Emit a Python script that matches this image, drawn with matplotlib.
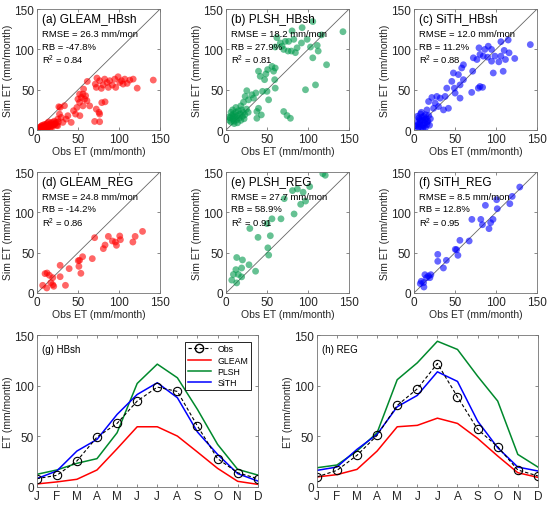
import numpy as np
import matplotlib
matplotlib.use('Agg')
import matplotlib.pyplot as plt
from matplotlib.lines import Line2D

plt.rcParams['font.family'] = ['Liberation Sans', 'DejaVu Sans']
plt.rcParams['mathtext.default'] = 'regular'

# ---- scatter data (obs, sim) ----
gleam_hbsh_obs = [141.8, 122.2, 117.3, 113.2, 107, 103, 98.9, 100.9, 94.8, 91.9, 88.7, 85.4, 82.5, 80.5,
                  76.4, 73.1, 72.3, 78.5, 71.1, 87, 96, 105, 109.9, 61.3,
                  56.8, 51.9, 56, 59.3, 54, 49.9, 58, 51.9, 60.9, 56, 48.6, 64.2, 44.5, 47, 72.3, 76.4,
                  70.3, 76.4, 37.6, 35.6, 29.4, 27.4, 25.3, 23.3, 31.5, 41.7, 19.2, 15.1, 17.2, 11,
                  6.9, 4.9, 9, 13, 2.9, 6.1, 21.3, 25.3, 28.2, 33.5, 26.6, 79, 83, 75.6, 52.3,
                  3, 5, 6, 8, 9, 10, 12, 14, 15, 7, 11, 13, 16, 18, 20, 22, 4, 6, 9, 12, 17, 19, 24,
                  26, 8, 10, 14, 21, 5, 7]
gleam_hbsh_sim = [62, 52, 63.2, 62, 63.2, 61.2, 66.1, 59, 63.2, 55.8, 61.2, 59, 63.2, 55.8,
                  61.2, 64.5, 52.9, 51.7, 57, 52.9, 52.9, 57, 57.9, 60.3,
                  50.8, 44.6, 44.6, 42.6, 40.4, 38.4, 38.4, 34.3, 36.4, 30, 28, 30, 24, 19.8, 26, 19.8,
                  10.7, 10.3, 17.8, 13.6, 15.7, 19.8, 13.6, 9.5, 9.5, 9.5, 9.5, 7.4, 5.4, 5.4,
                  3.3, 2.5, 2, 3.3, 3.3, 5.4, 6.6, 5.4, 28.1, 30.2, 28.9, 34, 35, 21.9, 17.8,
                  2, 1, 3, 2, 4, 3, 5, 4, 6, 1.5, 1, 2.5, 3, 5, 7, 8, 4, 5.5, 7, 8, 9, 4, 6,
                  10, 0.5, 6, 10, 11, 2, 4]

plsh_hbsh_obs = [142.6, 122.6, 109.1, 96.9, 116.5, 105.8, 111.2, 112.4, 103, 105.8, 98.9, 92, 86.6, 82.6,
                 76.4, 72.3, 84.6, 79.7, 75.6, 70.3, 68.3, 80.5, 92.8, 62, 66.2, 60,
                 56, 60, 50.7, 58, 48.6, 39.6, 41.7, 47, 59.3, 60, 50, 44.5, 36.4, 31.5, 23.3, 27.4,
                 21.3, 33.5, 25.3, 39.6, 37.6, 51.9, 70.3, 74.4, 78.5, 37.6, 43,
                 4, 5, 6, 7, 8, 9, 10, 11, 12, 13, 14, 15, 16, 17, 18, 19, 20, 21, 22, 23, 6, 8, 10,
                 12, 25, 27, 14, 3, 18, 9]
plsh_hbsh_sim = [122, 81, 56, 50, 118, 134.6, 105, 98, 103, 89.6, 112.5, 108, 102, 112.5,
                 110, 110, 96, 98, 98, 100, 104, 123, 127, 114.6, 108, 103,
                 79, 77, 75, 73, 69.6, 73, 66.7, 62.5, 62.5, 52, 48, 48, 46, 43.8, 41.7, 37.5,
                 34.6, 39.6, 48.8, 27, 23, 37.5, 23, 18, 14.6, 14.6, 18.8,
                 12, 15, 10, 18, 14, 20, 11, 16, 22, 13, 18, 24, 15, 20, 12, 25, 17, 22, 14, 19, 22, 25, 8,
                 28, 26, 22, 9, 16, 30, 17]

sith_hbsh_obs = [141.9, 114.9, 122.9, 116, 106, 110, 111.6, 106, 98.7, 103.5, 94.6, 89.8, 84.5, 80.5,
                 76.8, 72.4, 86.5, 90.6, 79.3, 94.6, 96.7, 108.8, 80.5, 78.5, 83.7, 70.4, 71.6,
                 58.2, 60.3, 54.2, 60.3, 48.1, 56.2, 46.1, 49.3, 40, 38, 50.2, 56.2, 32, 27.9, 21.8,
                 17.8, 25.9, 29.9, 42, 36, 23.9, 15.8,
                 3, 4, 5, 6, 7, 8, 9, 10, 11, 12, 13, 14, 15, 16, 17, 18, 5, 7, 9, 11, 6, 8, 10, 12,
                 14, 16, 4, 13, 19, 20]
sith_hbsh_sim = [106, 111.7, 88.8, 95.8, 109.6, 98.8, 87.5, 91.7, 91.7, 84.6, 85.4, 90.4, 91.7, 93.8,
                 87.5, 89.6, 100, 104, 102, 100, 70.8, 72.9, 54, 52, 53, 46.7, 73,
                 77, 81, 68.8, 62.5, 70.8, 56, 60.4, 52, 52, 41.7, 45.8, 39.6, 39.6, 41.7, 40.4,
                 35.4, 33.3, 29.2, 27, 25, 27, 25,
                 5, 10, 3, 15, 8, 20, 4, 12, 6, 17, 9, 3, 14, 7, 11, 18, 7, 13, 22, 2, 4, 11, 16, 5,
                 19, 10, 17, 13, 6, 14]

gleam_reg_obs = [128.7, 119.7, 116.9, 100.9, 101.7, 91.9, 95.6, 96.9, 87, 83, 80.9, 70.3, 67.4, 55.6,
                 50.3, 51.9, 51.1, 53.5, 39.2, 28.2, 28.2, 34.7, 19.2, 20.4, 11.9, 6.9, 16.8, 19.2,
                 9.8, 12.3, 15.1]
gleam_reg_sim = [76.4, 70.2, 63.2, 70.7, 66.1, 64.5, 63.2, 59.1, 70.2, 59.5, 55, 68.6, 42.6, 45,
                 40, 40.5, 33, 24.4, 30.2, 34.3, 20.2, 9.5, 10.3, 8.3, 6.2, 9.5, 12.8, 19,
                 24, 24.8, 21.9]

plsh_reg_obs = [118, 121, 102, 87, 81, 94, 97, 91, 71, 83, 56, 50, 67, 29, 39, 54, 51, 52,
                13, 20, 28, 19, 36, 12, 9, 15, 19, 7, 13]
plsh_reg_sim = [148, 146, 132, 129, 127, 125, 114, 110, 117, 98, 92, 86, 92, 80, 69, 71, 56, 47,
                44, 41, 35, 31, 27, 29, 23, 23, 20, 16, 12.5]

sith_reg_obs = [129, 119.8, 116.9, 100.8, 101.6, 87.1, 81.5, 83.5, 70.6, 96.4, 93.5, 91.5, 56, 67.3,
                50.4, 52, 53.6, 29, 29, 39.5, 35.9, 13.3, 17.7, 20.6, 19.4, 15.3, 8.9, 11.7, 12.1, 7.7]
sith_reg_sim = [131.4, 119.8, 110.7, 115.7, 104.5, 108.7, 91.3, 84.7, 91.3, 91.3, 87.2, 79.8, 65.3, 64.5,
                54.1, 53.7, 46.7, 47.9, 39.3, 40.5, 31, 22.7, 21.1, 22.7, 19, 19, 14.5, 12.8, 7.4, 11.6]

# ---- monthly means ----
months = ['J', 'F', 'M', 'A', 'M', 'J', 'J', 'A', 'S', 'O', 'N', 'D']
hbsh_obs = [8.2, 11.5, 25.7, 49.3, 62.8, 84.9, 98.7, 94.4, 60.2, 28, 14.1, 8.2]
hbsh_gleam = [3, 5, 7.6, 16.8, 37.8, 59.5, 59.5, 50.3, 34.5, 18.4, 5.6, 2.6]
hbsh_plsh = [12.5, 16.8, 23.4, 28, 53.6, 102.3, 121.4, 107.9, 76.6, 42.1, 17.4, 11.8]
hbsh_sith = [8.2, 15.8, 35.5, 47, 71.7, 91.4, 103, 88.2, 54.3, 32.2, 13.2, 5.9]

reg_obs = [9.9, 16.4, 31.3, 51, 80.6, 97, 122, 89, 57, 39.8, 16.8, 10.9]
reg_gleam = [9.9, 12.2, 17.4, 35.5, 59.5, 60.9, 68, 62.8, 48, 30.6, 14.1, 9.5]
reg_plsh = [19, 21.7, 35.5, 53.6, 106, 122.7, 144, 135.9, 109.5, 84.9, 32.2, 19.7]
reg_sith = [16.4, 19.7, 37.2, 52, 79.3, 90.5, 113.8, 104.3, 65.1, 38.8, 19.7, 15.8]

scatter_panels = [
    ('(a) GLEAM_HBsh', gleam_hbsh_obs, gleam_hbsh_sim, 'red', '26.3', '-47.8', '0.84'),
    ('(b) PLSH_HBsh', plsh_hbsh_obs, plsh_hbsh_sim, '#00994c', '18.2', '27.9', '0.81'),
    ('(c) SiTH_HBsh', sith_hbsh_obs, sith_hbsh_sim, 'blue', '12.0', '11.2', '0.88'),
    ('(d) GLEAM_REG', gleam_reg_obs, gleam_reg_sim, 'red', '24.8', '-14.2', '0.86'),
    ('(e) PLSH_REG', plsh_reg_obs, plsh_reg_sim, '#00994c', '27.7', '58.9', '0.91'),
    ('(f) SiTH_REG', sith_reg_obs, sith_reg_sim, 'blue', '8.5', '12.8', '0.95'),
]

lefts = [0.0673, 0.411, 0.7527]
bottoms = [0.741, 0.419]
pw, ph = 0.2236, 0.239

fig = plt.figure(figsize=(5.5, 5.06), dpi=100)


def style_axes(ax):
    for s in ax.spines.values():
        s.set_color('0.45')
        s.set_linewidth(0.6)
    ax.tick_params(direction='in', top=True, right=True, length=2.5, width=0.5,
                   color='0.35', labelsize=8.5, labelcolor='0.15', pad=2)


for i, (title, obs, sim, col, rmse, rb, r2) in enumerate(scatter_panels):
    ax = fig.add_axes([lefts[i % 3], bottoms[i // 3], pw, ph])
    ax.plot([0, 150], [0, 150], color='0.4', lw=0.6, zorder=1)
    ax.scatter(obs, sim, s=24, color=col, alpha=0.6, edgecolors='none', zorder=2)
    ax.set_xlim(0, 150)
    ax.set_ylim(0, 150)
    ax.set_xticks([0, 50, 100, 150])
    ax.set_yticks([0, 50, 100, 150])
    style_axes(ax)
    ax.set_xlabel('Obs ET (mm/month)', fontsize=7.5, color='0.15', labelpad=1)
    ax.set_ylabel('Sim ET (mm/month)', fontsize=7.5, color='0.15', labelpad=1)
    ax.text(0.04, 0.915, title, transform=ax.transAxes, fontsize=8.5, va='center')
    ax.text(0.04, 0.80, 'RMSE = %s mm/mon' % rmse, transform=ax.transAxes, fontsize=6.8, va='center')
    ax.text(0.04, 0.695, 'RB = %s%%' % rb, transform=ax.transAxes, fontsize=6.8, va='center')
    ax.text(0.04, 0.585, 'R$^2$ = %s' % r2, transform=ax.transAxes, fontsize=6.8, va='center')

x = np.arange(1, 13)
line_panels = [
    ('(g) HBsh', hbsh_obs, hbsh_gleam, hbsh_plsh, hbsh_sith, 0.0667),
    ('(h) REG', reg_obs, reg_gleam, reg_plsh, reg_sith, 0.576),
]

for title, obs, gl, pl, si, left in line_panels:
    ax = fig.add_axes([left, 0.0356, 0.402, 0.300])
    ax.plot(x, gl, color='red', lw=1.1)
    ax.plot(x, pl, color='#00892c', lw=1.1)
    ax.plot(x, si, color='blue', lw=1.1)
    ax.plot(x, obs, color='black', ls='--', lw=0.8, marker='o', ms=6,
            mfc='none', mec='black', mew=0.8, dashes=(3, 2))
    ax.set_xlim(1, 12)
    ax.set_ylim(0, 150)
    ax.set_xticks(x)
    ax.set_xticklabels(months)
    ax.set_yticks([0, 50, 100, 150])
    style_axes(ax)
    ax.set_ylabel('ET (mm/month)', fontsize=7.5, color='0.15', labelpad=1)
    ax.text(0.025, 0.91, title, transform=ax.transAxes, fontsize=7, va='center')
    if title.startswith('(g)'):
        handles = [
            Line2D([], [], color='black', ls='--', lw=0.8, marker='o', ms=6, mfc='none', dashes=(3, 2)),
            Line2D([], [], color='red', lw=1.1),
            Line2D([], [], color='#00892c', lw=1.1),
            Line2D([], [], color='blue', lw=1.1),
        ]
        leg = ax.legend(handles, ['Obs', 'GLEAM', 'PLSH', 'SiTH'], loc='upper right',
                        fontsize=6.3, frameon=True, fancybox=False, framealpha=1,
                        handlelength=2.6, borderpad=0.3, labelspacing=0.25,
                        bbox_to_anchor=(0.99, 0.985))
        leg.get_frame().set_edgecolor('black')
        leg.get_frame().set_linewidth(0.6)

fig.savefig('out.png', dpi=100)
